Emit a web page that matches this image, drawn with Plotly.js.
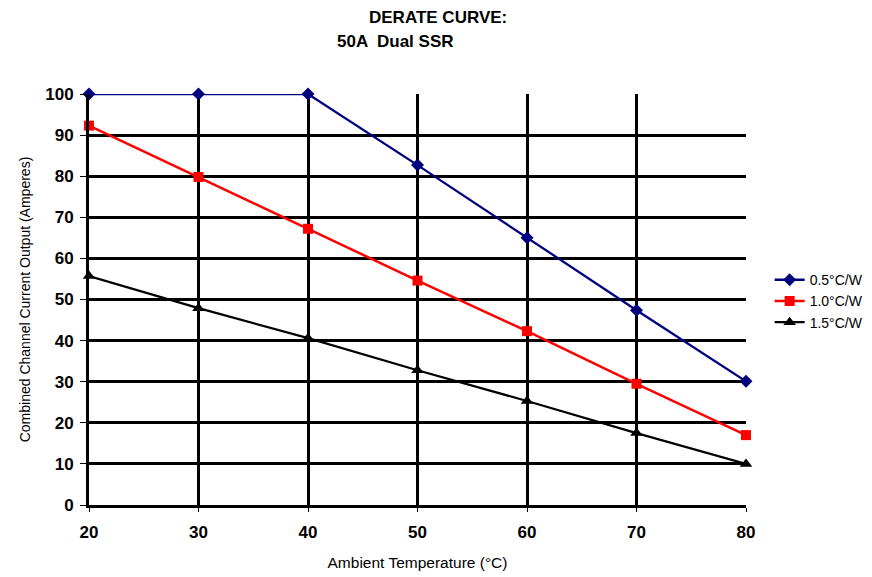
<!DOCTYPE html>
<html>
<head>
<meta charset="utf-8">
<script src="https://cdn.plot.ly/plotly-3.0.1.min.js"></script>
<style>html,body{margin:0;padding:0;background:#fff;}#chart{width:872px;height:577px;}</style>
</head>
<body>
<div id="chart"></div>
<script>
const temps = [20, 30, 40, 50, 60, 70, 80];
const s05 = [100, 100, 100, 82.7, 65, 47.4, 30.1];
const s10 = [92.3, 79.8, 67.2, 54.6, 42.3, 29.5, 17];
const s15 = [55.7, 47.9, 40.6, 32.8, 25.3, 17.5, 10];
const names = ['0.5°C/W', '1.0°C/W', '1.5°C/W'];
const xTicks = [20, 30, 40, 50, 60, 70, 80];
const yTicks = [0, 10, 20, 30, 40, 50, 60, 70, 80, 90, 100];

const F = 'Liberation Sans, Arial, sans-serif';
const traces = [
  {x: temps, y: s05, name: names[0], mode: 'lines+markers', cliponaxis: false,
   line: {color: '#00007f', width: 2.3}, marker: {symbol: 'diamond', size: 10, color: '#00007f'}},
  {x: temps, y: s10, name: names[1], mode: 'lines+markers', cliponaxis: false,
   line: {color: '#ff0000', width: 2.5}, marker: {symbol: 'square', size: 10, color: '#ff0000'}},
  {x: temps, y: s15, name: names[2], mode: 'lines+markers', cliponaxis: false,
   line: {color: '#000000', width: 2.2}, marker: {symbol: 'triangle-up', size: 11, color: '#000000'}}
];
const layout = {
  width: 872, height: 577,
  margin: {l: 89, r: 126, t: 94, b: 72, autoexpand: false},
  paper_bgcolor: '#fff', plot_bgcolor: '#fff',
  font: {family: F, color: '#000'},
  showlegend: true,
  legend: {x: 1.036, y: 0.496, xanchor: 'left', yanchor: 'middle',
           font: {family: F, size: 14, color: '#000'}, tracegroupgap: 0, itemwidth: 30},
  xaxis: {range: [20, 80], tickvals: xTicks, ticktext: xTicks.map(String),
          showgrid: true, gridcolor: '#000', gridwidth: 3, zeroline: false,
          showline: true, linecolor: '#000', linewidth: 3, mirror: false, automargin: false,
          ticks: 'outside', ticklen: 4, tickwidth: 1, tickcolor: '#000', ticklabelstandoff: 6,
          tickfont: {family: F, size: 17, color: '#000', weight: 'bold'},
          title: {text: 'Ambient Temperature (°C)', font: {family: F, size: 15.5, color: '#000'}, standoff: 16}},
  yaxis: {range: [0, 100], tickvals: yTicks, ticktext: yTicks.map(String),
          showgrid: true, gridcolor: '#000', gridwidth: 3, zeroline: false,
          showline: true, linecolor: '#000', linewidth: 3, mirror: false, automargin: false,
          ticks: 'outside', ticklen: 6, tickwidth: 1, tickcolor: '#000', ticklabelstandoff: 3,
          tickfont: {family: F, size: 17, color: '#000', weight: 'bold'},
          title: {text: 'Combined Channel Current Output (Amperes)', font: {family: F, size: 14, color: '#000'}, standoff: 12}},
  annotations: [
    {text: '<b>DERATE CURVE:</b>', xref: 'paper', yref: 'paper', x: (438-89)/657, y: 1 + (94-17)/411,
     xanchor: 'center', yanchor: 'middle', showarrow: false, font: {family: F, size: 17, color: '#000'}},
    {text: '<b>50A  Dual SSR</b>', xref: 'paper', yref: 'paper', x: (395-89)/657, y: 1 + (94-42)/411,
     xanchor: 'center', yanchor: 'middle', showarrow: false, font: {family: F, size: 17, color: '#000'}}
  ]
};
Plotly.newPlot('chart', traces, layout, {displayModeBar: false, staticPlot: true});
</script>
</body>
</html>
